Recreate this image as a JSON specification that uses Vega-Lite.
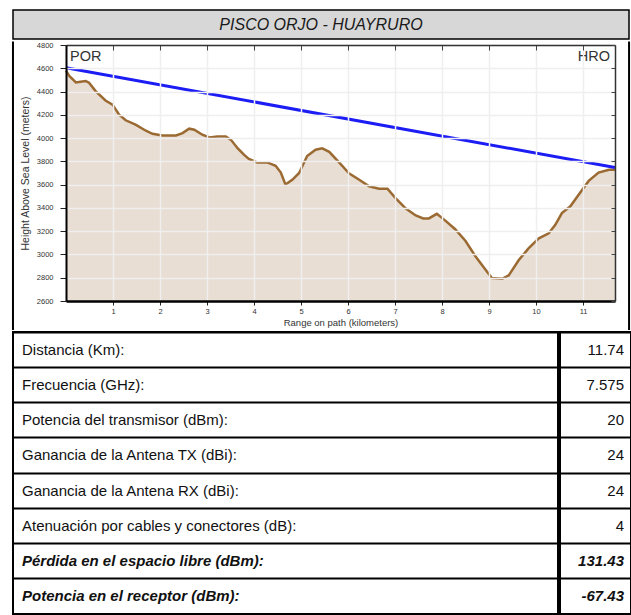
{
  "$schema": "https://vega.github.io/schema/vega-lite/v6.json",
  "padding": {"left": 11, "top": 9, "right": 2, "bottom": 0},
  "autosize": {"type": "pad"},
  "background": "white",
  "config": {"view": {"stroke": null}},
  "datasets": {
    "titulo": [{"texto": "PISCO ORJO - HUAYRURO"}],
    "perfil": [
      {"km": 0.00, "h": 4580}, {"km": 0.07, "h": 4534}, {"km": 0.21, "h": 4478}, {"km": 0.31, "h": 4485},
      {"km": 0.42, "h": 4490}, {"km": 0.49, "h": 4476}, {"km": 0.63, "h": 4404}, {"km": 0.84, "h": 4323},
      {"km": 0.99, "h": 4288}, {"km": 1.13, "h": 4202}, {"km": 1.27, "h": 4153}, {"km": 1.48, "h": 4115},
      {"km": 1.70, "h": 4063}, {"km": 1.84, "h": 4037}, {"km": 2.05, "h": 4023}, {"km": 2.34, "h": 4023},
      {"km": 2.48, "h": 4043}, {"km": 2.62, "h": 4081}, {"km": 2.73, "h": 4072}, {"km": 2.90, "h": 4029},
      {"km": 3.05, "h": 4005}, {"km": 3.22, "h": 4014}, {"km": 3.40, "h": 4014}, {"km": 3.51, "h": 3985},
      {"km": 3.65, "h": 3913}, {"km": 3.79, "h": 3855}, {"km": 3.89, "h": 3820}, {"km": 4.07, "h": 3791},
      {"km": 4.28, "h": 3791}, {"km": 4.46, "h": 3762}, {"km": 4.57, "h": 3704}, {"km": 4.67, "h": 3600},
      {"km": 4.82, "h": 3644}, {"km": 4.96, "h": 3700}, {"km": 5.13, "h": 3846}, {"km": 5.31, "h": 3900},
      {"km": 5.45, "h": 3912}, {"km": 5.60, "h": 3882}, {"km": 5.81, "h": 3791}, {"km": 6.02, "h": 3697},
      {"km": 6.23, "h": 3644}, {"km": 6.45, "h": 3586}, {"km": 6.66, "h": 3565}, {"km": 6.84, "h": 3565},
      {"km": 7.01, "h": 3484}, {"km": 7.23, "h": 3394}, {"km": 7.44, "h": 3335}, {"km": 7.60, "h": 3310},
      {"km": 7.72, "h": 3310}, {"km": 7.89, "h": 3349}, {"km": 8.07, "h": 3291}, {"km": 8.28, "h": 3217},
      {"km": 8.50, "h": 3116}, {"km": 8.71, "h": 2985}, {"km": 8.89, "h": 2887}, {"km": 9.06, "h": 2797},
      {"km": 9.28, "h": 2791}, {"km": 9.42, "h": 2820}, {"km": 9.63, "h": 2950}, {"km": 9.84, "h": 3052},
      {"km": 10.06, "h": 3139}, {"km": 10.27, "h": 3182}, {"km": 10.41, "h": 3255}, {"km": 10.55, "h": 3356},
      {"km": 10.73, "h": 3414}, {"km": 10.91, "h": 3516}, {"km": 11.12, "h": 3632}, {"km": 11.33, "h": 3704},
      {"km": 11.55, "h": 3727}, {"km": 11.68, "h": 3727}
    ],
    "linea_vista": [{"km": 0, "h": 4605}, {"km": 11.68, "h": 3747}],
    "sitios": [{"sitio": "POR", "km": 0}, {"sitio": "HRO", "km": 11.68}],
    "tabla": [
      {"concepto": "Distancia (Km):", "valor": 11.74, "tipo": "dato"},
      {"concepto": "Frecuencia (GHz):", "valor": 7.575, "tipo": "dato"},
      {"concepto": "Potencia del transmisor (dBm):", "valor": 20, "tipo": "dato"},
      {"concepto": "Ganancia de la Antena TX (dBi):", "valor": 24, "tipo": "dato"},
      {"concepto": "Ganancia de la Antena RX (dBi):", "valor": 24, "tipo": "dato"},
      {"concepto": "Atenuación por cables y conectores (dB):", "valor": 4, "tipo": "dato"},
      {"concepto": "Pérdida en el espacio libre (dBm):", "valor": 131.43, "tipo": "resultado"},
      {"concepto": "Potencia en el receptor (dBm):", "valor": -67.43, "tipo": "resultado"}
    ]
  },
  "vconcat": [
    {
      "width": 616,
      "height": 29,
      "view": {"fill": "#d7d7d7", "stroke": "black", "strokeWidth": 1.5},
      "data": {"name": "titulo"},
      "mark": {"type": "text", "font": "Liberation Sans", "fontSize": 16, "fontStyle": "italic", "color": "#1a1a1a"},
      "encoding": {"text": {"field": "texto", "type": "nominal"}}
    },
    {
      "width": 616,
      "height": 256,
      "view": {"stroke": null},
      "layer": [
        {
          "data": {"name": "perfil"},
          "mark": {"type": "area", "color": "#e8ded3", "clip": true},
          "encoding": {
            "x": {
              "field": "km", "type": "quantitative",
              "scale": {"domain": [0, 11.68], "range": [53, 602], "nice": false, "zero": false},
              "axis": {
                "orient": "bottom", "values": [1, 2, 3, 4, 5, 6, 7, 8, 9, 10, 11],
                "title": "Range on path (kilometers)", "titleFont": "Liberation Sans",
                "titleFontSize": 9.5, "titleFontWeight": "normal", "titleColor": "#333", "titlePadding": 3,
                "labelFont": "Liberation Sans", "labelFontSize": 7.5, "labelColor": "#333",
                "labelPadding": 2, "tickSize": 4, "tickColor": "#222", "domainColor": "black", "domainWidth": 2.5,
                "grid": true, "gridColor": "#efefef", "gridWidth": 1.5, "zindex": 1
              }
            },
            "y": {
              "field": "h", "type": "quantitative",
              "scale": {"domain": [2600, 4800], "nice": false, "zero": false},
              "axis": {
                "orient": "left", "offset": -53,
                "values": [2600, 2800, 3000, 3200, 3400, 3600, 3800, 4000, 4200, 4400, 4600, 4800],
                "format": "d",
                "title": "Height Above Sea Level (meters)", "titleFont": "Liberation Sans",
                "titleFontSize": 10.5, "titleFontWeight": "normal", "titleColor": "#333", "titlePadding": 6,
                "labelFont": "Liberation Sans", "labelFontSize": 7.5, "labelColor": "#333",
                "labelPadding": 7, "tickSize": 6, "tickColor": "#222", "domainColor": "black", "domainWidth": 2,
                "grid": true, "gridColor": "#efefef", "gridWidth": 1.5, "zindex": 1
              }
            }
          }
        },
        {
          "data": {"name": "perfil"},
          "mark": {"type": "line", "color": "#9b6a32", "strokeWidth": 2.5},
          "encoding": {
            "x": {
              "field": "km", "type": "quantitative",
              "axis": {"orient": "top", "values": [1, 2, 3, 4, 5, 6, 7, 8, 9, 10, 11], "title": null, "labels": false,
                       "grid": false, "tickSize": -5, "tickColor": "#444", "domainColor": "#333", "domainWidth": 1.5, "zindex": 1}
            },
            "y": {
              "field": "h", "type": "quantitative",
              "axis": {"orient": "right", "offset": -14,
                       "values": [2600, 2800, 3000, 3200, 3400, 3600, 3800, 4000, 4200, 4400, 4600, 4800],
                       "title": null, "labels": false, "grid": false, "tickSize": -4, "tickColor": "#444",
                       "domainColor": "#333", "domainWidth": 1.5, "zindex": 1}
            }
          }
        },
        {
          "data": {"name": "linea_vista"},
          "mark": {"type": "line", "color": "#1c1cf5", "strokeWidth": 3},
          "encoding": {
            "x": {"field": "km", "type": "quantitative", "axis": null},
            "y": {"field": "h", "type": "quantitative", "axis": null}
          }
        },
        {
          "data": {"name": "sitios"},
          "transform": [{"filter": "datum.km == 0"}],
          "mark": {"type": "text", "font": "Liberation Sans", "fontSize": 14.5, "color": "#333", "align": "left", "baseline": "top", "dx": 4, "dy": 5},
          "encoding": {
            "x": {"field": "km", "type": "quantitative", "axis": null},
            "y": {"datum": 4800, "type": "quantitative", "axis": null},
            "text": {"field": "sitio", "type": "nominal"}
          }
        },
        {
          "data": {"name": "sitios"},
          "transform": [{"filter": "datum.km > 0"}],
          "mark": {"type": "text", "font": "Liberation Sans", "fontSize": 14.5, "color": "#333", "align": "right", "baseline": "top", "dx": -5, "dy": 5},
          "encoding": {
            "x": {"field": "km", "type": "quantitative", "axis": null},
            "y": {"datum": 4800, "type": "quantitative", "axis": null},
            "text": {"field": "sitio", "type": "nominal"}
          }
        },
        {
          "data": {"values": [{}]},
          "mark": {"type": "rule", "color": "black", "strokeWidth": 2},
          "encoding": {
            "x": {"datum": -1.128, "type": "quantitative", "axis": null},
            "y": {"datum": 4830, "type": "quantitative", "axis": null},
            "y2": {"datum": 2351}
          }
        },
        {
          "data": {"values": [{}]},
          "mark": {"type": "rule", "color": "black", "strokeWidth": 2},
          "encoding": {
            "x": {"datum": 11.979, "type": "quantitative", "axis": null},
            "y": {"datum": 4830, "type": "quantitative", "axis": null},
            "y2": {"datum": 2351}
          }
        }
      ],
      "resolve": {"axis": {"x": "independent", "y": "independent"}}
    },
    {
      "hconcat": [
        {
          "width": 545,
          "height": 282,
          "view": {"stroke": "black", "strokeWidth": 2},
          "data": {"name": "tabla"},
          "encoding": {
            "y": {
              "field": "concepto", "type": "nominal", "sort": null, "bandPosition": 0.5,
              "scale": {"type": "band", "paddingInner": 0, "paddingOuter": 0},
              "axis": {"title": null, "labels": false, "ticks": false, "domain": false, "grid": true,
                       "gridColor": "black", "gridWidth": 2, "bandPosition": 0, "minExtent": 0, "maxExtent": 0}
            },
            "x": {"datum": 0, "type": "quantitative", "scale": {"domain": [0, 1]}, "axis": null},
            "text": {"field": "concepto", "type": "nominal"}
          },
          "layer": [
            {
              "transform": [{"filter": "datum.tipo == 'dato'"}],
              "mark": {"type": "text", "align": "left", "dx": 9, "font": "Liberation Sans", "fontSize": 15, "color": "#111"}
            },
            {
              "transform": [{"filter": "datum.tipo == 'resultado'"}],
              "mark": {"type": "text", "align": "left", "dx": 9, "font": "Liberation Sans", "fontSize": 15, "fontStyle": "italic", "fontWeight": "bold", "color": "#111"}
            }
          ]
        },
        {
          "width": 71,
          "height": 282,
          "view": {"stroke": "black", "strokeWidth": 2},
          "data": {"name": "tabla"},
          "encoding": {
            "y": {
              "field": "concepto", "type": "nominal", "sort": null, "bandPosition": 0.5,
              "scale": {"type": "band", "paddingInner": 0, "paddingOuter": 0},
              "axis": {"title": null, "labels": false, "ticks": false, "domain": false, "grid": true,
                       "gridColor": "black", "gridWidth": 2, "bandPosition": 0, "minExtent": 0, "maxExtent": 0}
            },
            "x": {"datum": 1, "type": "quantitative", "scale": {"domain": [0, 1]}, "axis": null},
            "text": {"field": "valor", "type": "nominal"}
          },
          "layer": [
            {
              "transform": [{"filter": "datum.tipo == 'dato'"}],
              "mark": {"type": "text", "align": "right", "dx": -7, "font": "Liberation Sans", "fontSize": 15, "color": "#111"}
            },
            {
              "transform": [{"filter": "datum.tipo == 'resultado'"}],
              "mark": {"type": "text", "align": "right", "dx": -7, "font": "Liberation Sans", "fontSize": 15, "fontStyle": "italic", "fontWeight": "bold", "color": "#111"}
            }
          ]
        }
      ],
      "spacing": 0,
      "resolve": {"scale": {"x": "independent", "y": "independent"}}
    }
  ],
  "spacing": 0
}
